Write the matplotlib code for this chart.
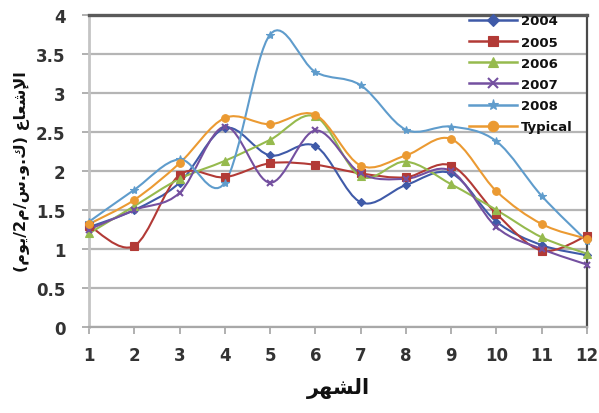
import numpy as np
import matplotlib
matplotlib.use("Agg")
import matplotlib.pyplot as plt
from matplotlib.path import Path
from matplotlib.patches import PathPatch
from matplotlib.lines import Line2D

months = [1, 2, 3, 4, 5, 6, 7, 8, 9, 10, 11, 12]
y2004 = [1.28, 1.50, 1.85, 2.55, 2.20, 2.32, 1.60, 1.82, 1.97, 1.35, 1.05, 0.92]
y2005 = [1.30, 1.04, 1.95, 1.92, 2.10, 2.08, 1.97, 1.92, 2.07, 1.45, 0.98, 1.17]
y2006 = [1.20, 1.55, 1.90, 2.13, 2.40, 2.70, 1.93, 2.12, 1.83, 1.50, 1.15, 0.94]
y2007 = [1.25, 1.50, 1.72, 2.57, 1.85, 2.52, 1.97, 1.90, 2.00, 1.28, 1.00, 0.80]
y2008 = [1.35, 1.76, 2.15, 1.85, 3.75, 3.27, 3.10, 2.53, 2.57, 2.38, 1.68, 1.10]
ytyp = [1.32, 1.63, 2.10, 2.68, 2.60, 2.72, 2.07, 2.20, 2.41, 1.74, 1.32, 1.13]

series = [
    ("2004", y2004, "#3f5aa8", "D", 4),
    ("2005", y2005, "#b23a36", "s", 5.5),
    ("2006", y2006, "#96ba4e", "^", 5.5),
    ("2007", y2007, "#7450a0", "x", 5),
    ("2008", y2008, "#5f9ccc", "*", 6),
    ("Typical", ytyp, "#eb9a32", "o", 5.5),
]

# Arabic labels written in shaped, visual (left-to-right) order
xlabel_ar = "\uFEAE\uFEEC\uFEB8\uFEDF\uFE8D"
ylabel_ar = ("(" + "\uFEE1\uFEEE\uFEF3" + "/2" + "\uFEE1" + "/" +
             "\uFEB1.\uFEED.\uFED9" + ")" + " " +
             "\uFEC9\uFE8E\uFECC\uFEB7\uFEF9\uFE8D")


def smooth_path(xs, ys):
    """Bezier path through the points with Excel-style smoothing."""
    p = np.column_stack([xs, ys]).astype(float)
    n = len(p)
    verts = [p[0]]
    codes = [Path.MOVETO]
    for i in range(n - 1):
        p0 = p[i - 1] if i > 0 else p[i]
        p1 = p[i]
        p2 = p[i + 1]
        p3 = p[i + 2] if i + 2 < n else p[i + 1]
        c1 = p1 + (p2 - p0) / 6.0
        c2 = p2 - (p3 - p1) / 6.0
        verts += [c1, c2, p2]
        codes += [Path.CURVE4] * 3
    return Path(verts, codes)


fig = plt.figure(figsize=(5.99, 4.14), dpi=100)
ax = fig.add_axes([0.1486, 0.2077, 0.8314, 0.7536])

ax.set_xlim(1, 12)
ax.set_ylim(0, 4)
ax.set_yticks(np.arange(0, 4.01, 0.5))
ax.set_yticklabels(["0", "0.5", "1", "1.5", "2", "2.5", "3", "3.5", "4"])
ax.set_xticks(months)
ax.grid(axis="y", color="#b5b5b5", linewidth=1.6)
ax.set_axisbelow(True)

handles = []
for name, vals, color, marker, ms in series:
    patch = PathPatch(smooth_path(months, vals), facecolor="none",
                      edgecolor=color, linewidth=1.5, zorder=3)
    ax.add_patch(patch)
    mew = 1.5 if marker in ("x",) else 0.8
    ax.plot(months, vals, linestyle="none", marker=marker, markersize=ms,
            color=color, markeredgecolor=color, markeredgewidth=mew,
            zorder=4, clip_on=False)
    handles.append(Line2D([], [], color=color, linewidth=1.8, marker=marker,
                          markersize=ms + 2, markeredgewidth=mew, label=name))

for side, col, lw in [("top", "#5a5a5a", 2.4), ("right", "#4a4a4a", 1.6),
                      ("left", "#c4c4c4", 2.0), ("bottom", "#a8a8a8", 1.6)]:
    ax.spines[side].set_color(col)
    ax.spines[side].set_linewidth(lw)

ax.tick_params(axis="both", direction="out", length=5, width=1.4,
               color="#b0b0b0", labelsize=12, labelcolor="#333333")
ax.tick_params(axis="x", pad=9)
ax.tick_params(axis="y", pad=12)
for lab in ax.get_xticklabels() + ax.get_yticklabels():
    lab.set_fontweight("bold")

ax.set_xlabel(xlabel_ar, fontsize=15, fontweight="bold",
              family=["DejaVu Sans"], labelpad=9, color="#111111")
ax.set_ylabel(ylabel_ar, fontsize=11.5, fontweight="bold",
              family=["DejaVu Sans"], labelpad=4, color="#111111")

leg = ax.legend(handles=handles, loc="upper left",
                bbox_to_anchor=(0.768, 0.985), bbox_transform=fig.transFigure,
                frameon=False, handlelength=3.6, handletextpad=0.3,
                labelspacing=0.62, borderpad=0.2,
                prop={"size": 9.5, "weight": "bold"})
for t in leg.get_texts():
    t.set_color("#111111")

fig.savefig("out.png", dpi=100)
